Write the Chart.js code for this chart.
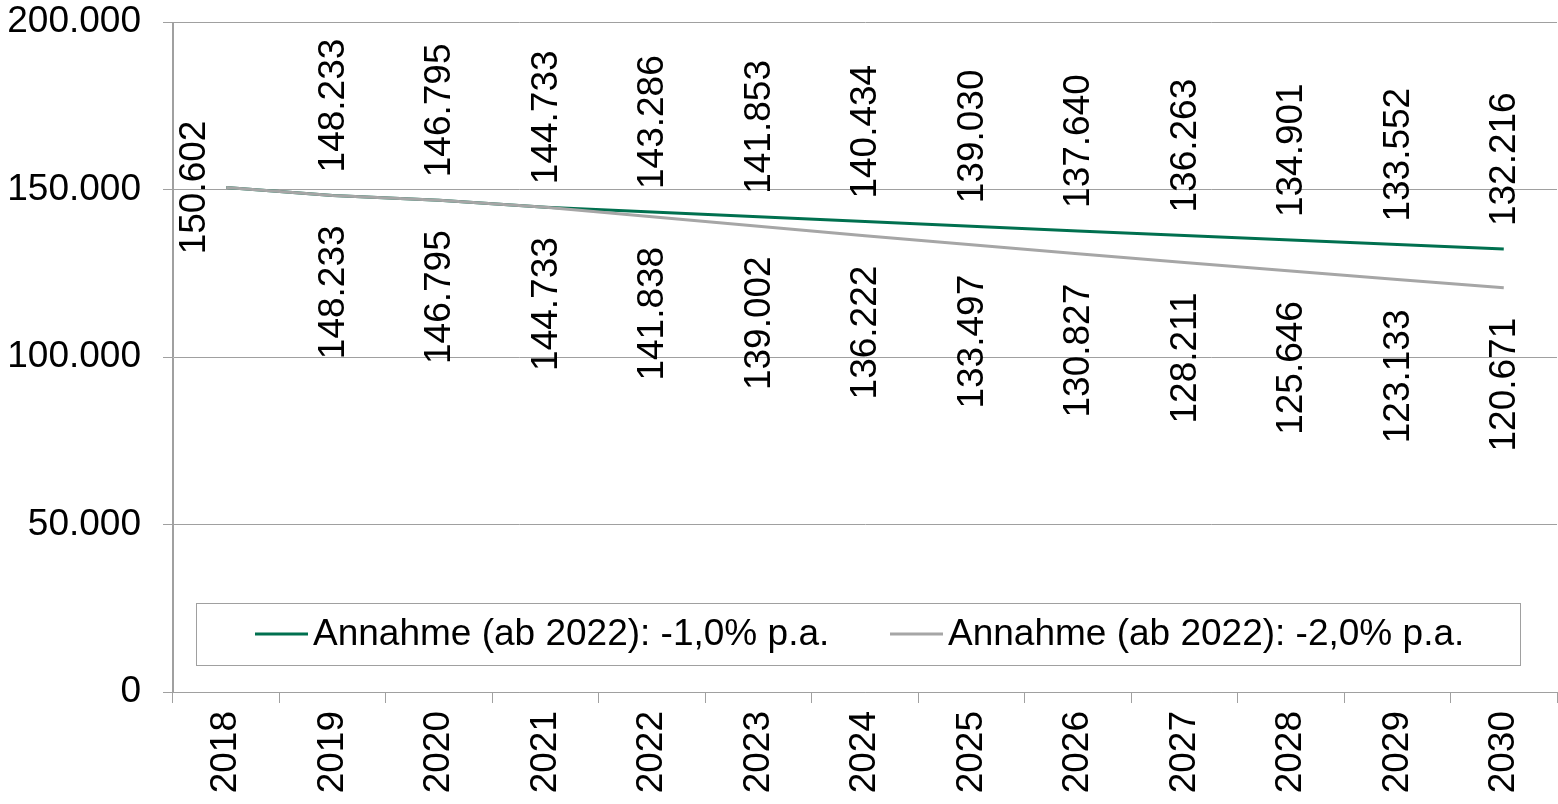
<!DOCTYPE html>
<html>
<head>
<meta charset="utf-8">
<script src="https://cdn.jsdelivr.net/npm/chart.js@4/dist/chart.umd.min.js"></script>
<style>
html,body{margin:0;padding:0;background:#fff;}
#wrap{width:1558px;height:804px;position:relative;}
</style>
</head>
<body>
<div id="wrap"><canvas id="c"></canvas></div>
<script>
const years = ['2018','2019','2020','2021','2022','2023','2024','2025','2026','2027','2028','2029','2030'];
const seriesNames = ['Annahme (ab 2022): -1,0% p.a.', 'Annahme (ab 2022): -2,0% p.a.'];
const minus1 = [150602,148233,146795,144733,143286,141853,140434,139030,137640,136263,134901,133552,132216];
const minus2 = [150602,148233,146795,144733,141838,139002,136222,133497,130827,128211,125646,123133,120671];
const yTicks = [0,50000,100000,150000,200000];

const FONT = '"Liberation Sans", Arial, sans-serif';
const FS = 37;
const GREEN = '#00704f';
const GREY = '#a6a6a6';
const GRID = '#a0a0a0';
const fmt = v => v === 0 ? '0' : v.toLocaleString('de-DE');

const labelPlugin = {
  id: 'valLabels',
  afterDatasetsDraw(chart) {
    const ctx = chart.ctx;
    ctx.save();
    ctx.fillStyle = '#000';
    ctx.font = FS + 'px ' + FONT;
    ctx.textBaseline = 'middle';
    chart.data.datasets.forEach((ds, di) => {
      const meta = chart.getDatasetMeta(di);
      meta.data.forEach((pt, i) => {
        const txt = fmt(ds.data[i]);
        ctx.save();
        if (di === 0) {
          if (i === 0) {
            ctx.translate(pt.x - 31, pt.y);
            ctx.rotate(-Math.PI / 2);
            ctx.textAlign = 'center';
          } else {
            ctx.translate(pt.x + 1, pt.y - 23);
            ctx.rotate(-Math.PI / 2);
            ctx.textAlign = 'left';
          }
          ctx.fillText(txt, 0, 0);
        } else if (i > 0) {
          ctx.translate(pt.x + 1, pt.y + 30);
          ctx.rotate(-Math.PI / 2);
          ctx.textAlign = 'right';
          ctx.fillText(txt, 0, 0);
        }
        ctx.restore();
      });
    });
    ctx.restore();
  },
  afterDraw(chart) {
    const ctx = chart.ctx;
    const a = chart.chartArea;
    ctx.save();
    const bx = a.left + 23.5, by = 603.5, bw = 1324, bh = 62;
    ctx.fillStyle = '#fff';
    ctx.fillRect(bx, by, bw, bh);
    ctx.strokeStyle = GRID;
    ctx.lineWidth = 1;
    ctx.strokeRect(bx, by, bw, bh);
    const items = [
      {x: 255, color: GREEN, text: seriesNames[0]},
      {x: 890, color: GREY, text: seriesNames[1]}
    ];
    ctx.font = FS + 'px ' + FONT;
    ctx.textBaseline = 'middle';
    ctx.textAlign = 'left';
    items.forEach(it => {
      ctx.strokeStyle = it.color;
      ctx.lineWidth = 3;
      ctx.beginPath();
      ctx.moveTo(it.x, 634);
      ctx.lineTo(it.x + 53, 634);
      ctx.stroke();
      ctx.fillStyle = '#000';
      ctx.fillText(it.text, it.x + 58, 635);
    });
    ctx.restore();
  }
};

new Chart(document.getElementById('c'), {
  type: 'line',
  data: {
    labels: years,
    datasets: [
      {label: seriesNames[0], data: minus1, borderColor: GREEN, backgroundColor: GREEN, borderWidth: 3, pointRadius: 0, tension: 0, order: 1},
      {label: seriesNames[1], data: minus2, borderColor: GREY, backgroundColor: GREY, borderWidth: 3, pointRadius: 0, tension: 0, order: 0}
    ]
  },
  options: {
    responsive: true,
    maintainAspectRatio: false,
    animation: false,
    layout: {padding: {top: 22, right: 1, left: 0, bottom: 0}},
    plugins: {legend: {display: false}, tooltip: {enabled: false}},
    scales: {
      x: {
        offset: true,
        grid: {
          offset: true,
          drawOnChartArea: true,
          color: c => (c.index === 0 || c.index === years.length) ? GRID : 'rgba(0,0,0,0)',
          tickColor: GRID,
          tickLength: 11,
          lineWidth: 1
        },
        border: {display: true, color: GRID},
        ticks: {
          color: '#000',
          font: {family: FONT, size: FS},
          maxRotation: 90, minRotation: 90,
          padding: 8,
          autoSkip: false
        },
        afterFit: s => { s.height = 112; s.paddingLeft = 0; s.paddingRight = 0; }
      },
      y: {
        min: 0, max: 200000,
        afterBuildTicks: s => { s.ticks = yTicks.map(v => ({value: v})); },
        grid: {color: GRID, tickColor: GRID, tickLength: 10, lineWidth: 1},
        border: {display: true, color: GRID},
        ticks: {
          color: '#000',
          font: {family: FONT, size: FS},
          padding: 22,
          callback: v => fmt(v)
        },
        afterFit: s => { s.width = 173; s.paddingTop = 0; s.paddingBottom = 0; }
      }
    }
  },
  plugins: [labelPlugin]
});
</script>
</body>
</html>
